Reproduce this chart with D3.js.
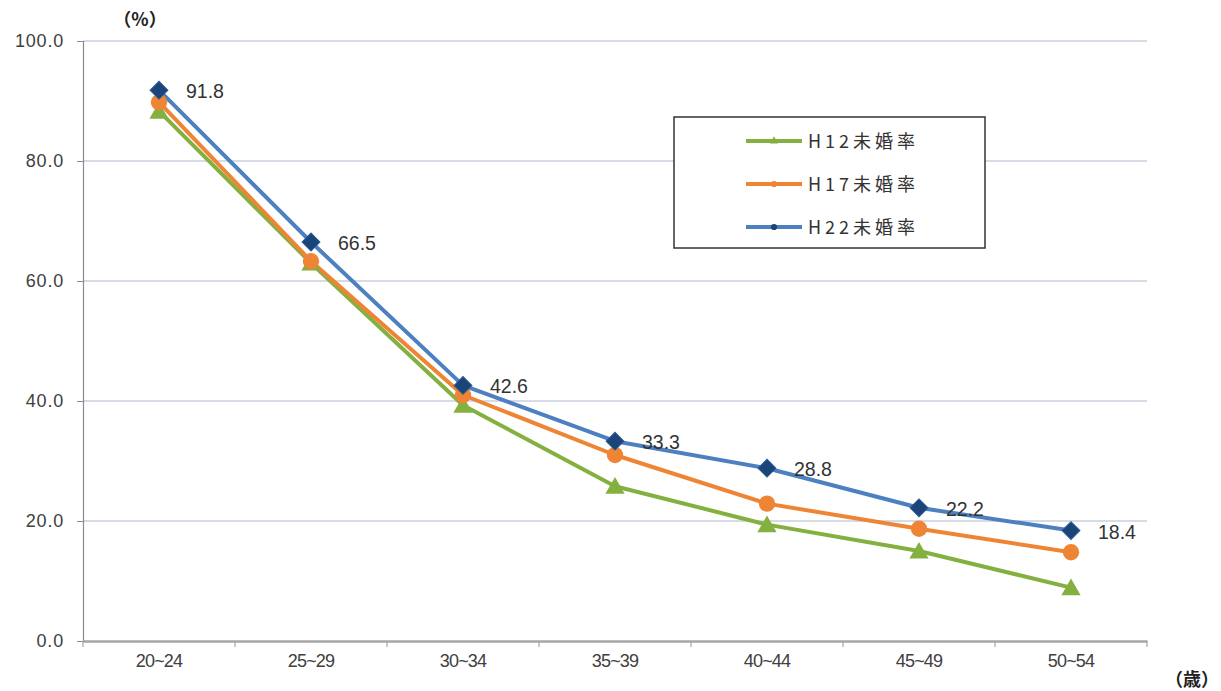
<!DOCTYPE html>
<html>
<head>
<meta charset="utf-8">
<script src="https://cdn.jsdelivr.net/npm/d3@7"></script>
<style>
  body { margin: 0; background: #fff; }
  svg { display: block; }
</style>
</head>
<body>
<div id="chart"></div>
<script>
// 未婚率の推移 (H12 / H17 / H22)

var categories = ["20～24", "25～29", "30～34", "35～39", "40～44", "45～49", "50～54"];
var h12 = [88.3, 63.0, 39.3, 25.8, 19.4, 15.0, 8.9];
var h17 = [89.8, 63.3, 41.0, 31.0, 22.9, 18.7, 14.8];
var h22 = [91.8, 66.5, 42.6, 33.3, 28.8, 22.2, 18.4];
var yTicks = [0, 20, 40, 60, 80, 100];

var series = [
    { name: "H12未婚率", values: h12, color: "#84b040", marker: "triangle" },
    { name: "H17未婚率", values: h17, color: "#ee8535", marker: "circle" },
    { name: "H22未婚率", values: h22, color: "#4c80c0", marker: "diamond" }
];

var W = 1221, H = 691;
var margin = { top: 41, right: 74, bottom: 50, left: 83 },
    width = W - margin.left - margin.right,
    height = H - margin.top - margin.bottom;

var svg = d3.select("#chart").append("svg")
    .attr("width", W)
    .attr("height", H);

var g = svg.append("g")
    .attr("transform", "translate(" + margin.left + "," + margin.top + ")");

var x = d3.scaleBand().domain(categories).range([0, width]);
var y = d3.scaleLinear().domain([0, 100]).range([height, 0]);

var numFont = "'Liberation Sans', Arial, sans-serif";
var jpFont = "'Noto Sans CJK JP', sans-serif";

// grid lines
g.selectAll(".grid")
    .data(yTicks.filter(function(d) { return d > 0; }))
    .enter().append("line")
    .attr("x1", 0).attr("x2", width)
    .attr("y1", function(d) { return y(d); })
    .attr("y2", function(d) { return y(d); })
    .style("stroke", "#c9cfdf")
    .style("stroke-width", 1.5);

// y axis
var yAxis = g.append("g")
    .call(d3.axisLeft(y).tickValues(yTicks).tickSize(6).tickFormat(d3.format(".1f")));
yAxis.select(".domain").style("stroke", "#8a8a8a").style("stroke-width", 1.2);
yAxis.selectAll(".tick line").style("stroke", "#8a8a8a");
yAxis.selectAll("text")
    .attr("x", -19)
    .style("font-family", numFont)
    .style("font-size", "18px")
    .style("letter-spacing", "0.8px")
    .style("fill", "#404040");

// x axis (tilde drawn narrow like the original)
var xAxis = g.append("g")
    .attr("transform", "translate(0," + height + ")")
    .call(d3.axisBottom(x).tickSize(0).tickPadding(13)
        .tickFormat(function(d) { return d.replace("～", "~"); }));
xAxis.select(".domain").style("stroke", "#a6a6a6").style("stroke-width", 2.5);
xAxis.selectAll("text")
    .style("font-family", numFont)
    .style("font-size", "18px")
    .style("letter-spacing", "-0.8px")
    .style("fill", "#404040");

// x tick marks between categories
g.selectAll(".xtick")
    .data(d3.range(categories.length + 1))
    .enter().append("line")
    .attr("x1", function(i) { return i * x.bandwidth(); })
    .attr("x2", function(i) { return i * x.bandwidth(); })
    .attr("y1", height)
    .attr("y2", height + 6)
    .style("stroke", "#a6a6a6")
    .style("stroke-width", 1.2);

var line = d3.line()
    .x(function(d, i) { return x(categories[i]) + x.bandwidth() / 2; })
    .y(function(d) { return y(d); });

var symbols = {
    triangle: d3.symbol().type(d3.symbolTriangle).size(160),
    circle: d3.symbol().type(d3.symbolCircle).size(210),
    diamond: d3.symbol().type(d3.symbolSquare).size(160)
};

series.forEach(function(s) {
    g.append("path")
        .datum(s.values)
        .attr("d", line)
        .style("fill", "none")
        .style("stroke", s.color)
        .style("stroke-width", 4)
        .style("stroke-linejoin", "round");
});

series.forEach(function(s) {
    g.selectAll(".m-" + s.marker)
        .data(s.values)
        .enter().append("path")
        .attr("d", symbols[s.marker])
        .attr("transform", function(d, i) {
            var t = "translate(" + (x(categories[i]) + x.bandwidth() / 2) + "," + y(d) + ")";
            if (s.marker === "diamond") t += " rotate(45)";
            if (s.marker === "triangle") t += " translate(0,2)";
            return t;
        })
        .style("fill", s.marker === "diamond" ? "#1b4479" : s.color)
        .style("stroke", s.marker === "diamond" ? "#2a5a96" : "none")
        .style("stroke-width", 1);
});

// data labels for H22
g.selectAll(".label")
    .data(h22)
    .enter().append("text")
    .attr("x", function(d, i) { return x(categories[i]) + x.bandwidth() / 2 + 27; })
    .attr("y", function(d) { return y(d) + 8; })
    .text(function(d) { return d3.format(".1f")(d); })
    .style("font-family", numFont)
    .style("font-size", "19.5px")
    .style("fill", "#333");

// unit labels
svg.append("text")
    .attr("x", 140).attr("y", 26)
    .attr("text-anchor", "middle")
    .text("（%）")
    .style("font-family", jpFont)
    .style("font-size", "18px")
    .style("font-weight", "bold")
    .style("fill", "#222");

svg.append("text")
    .attr("x", 1192).attr("y", 686)
    .attr("text-anchor", "middle")
    .text("（歳）")
    .style("font-family", jpFont)
    .style("font-size", "18px")
    .style("font-weight", "bold")
    .style("fill", "#222");

// legend
var legend = svg.append("g").attr("transform", "translate(674,117)");
legend.append("rect")
    .attr("width", 311).attr("height", 131)
    .style("fill", "#fff")
    .style("stroke", "#333")
    .style("stroke-width", 1.5);

var rows = legend.selectAll(".row")
    .data(series)
    .enter().append("g")
    .attr("transform", function(d, i) { return "translate(0," + (24 + i * 43) + ")"; });

rows.append("line")
    .attr("x1", 72).attr("x2", 128)
    .style("stroke", function(d) { return d.color; })
    .style("stroke-width", 4);

rows.append("path")
    .attr("d", function(d) { return d3.symbol().type(d.marker === "triangle" ? d3.symbolTriangle : d3.symbolCircle).size(30)(); })
    .attr("transform", "translate(100,0)")
    .style("fill", function(d) { return d.marker === "diamond" ? "#1b4479" : d.color; });

rows.append("text")
    .attr("x", 134).attr("y", 7)
    .text(function(d) { return d.name; })
    .style("font-family", jpFont)
    .style("font-size", "18px")
    .style("letter-spacing", "4px")
    .style("fill", "#333");
</script>
</body>
</html>
